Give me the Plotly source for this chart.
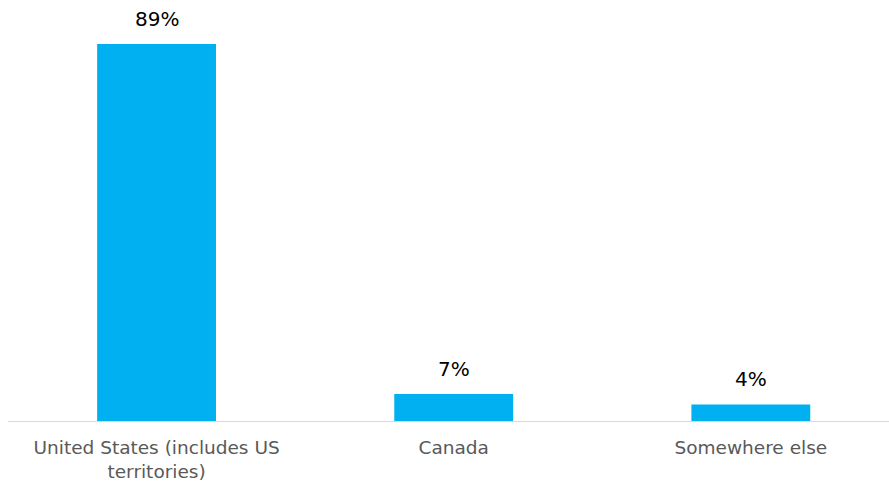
import plotly.graph_objects as go

categories = ["United States (includes US<br>territories)", "Canada", "Somewhere else"]
values = [89, 6.4, 3.9]
labels = ["89%", "7%", "4%"]

fig = go.Figure()
fig.add_trace(go.Bar(
    x=categories, y=values,
    marker=dict(color="#00B0F0", line=dict(width=0)),
    width=0.4, cliponaxis=False, hoverinfo="skip",
))
for c, v, t in zip(categories, values, labels):
    fig.add_annotation(
        x=c, y=v, text=t, showarrow=False, yanchor="middle", yshift=25,
        font=dict(family="Century Gothic, DejaVu Sans", size=20, color="#000000"),
    )
fig.update_layout(
    width=889, height=488,
    margin=dict(l=8, r=0, t=0, b=67),
    paper_bgcolor="white", plot_bgcolor="white",
    showlegend=False,
    font=dict(family="Century Gothic, DejaVu Sans", size=18, color="#595959"),
)
fig.update_xaxes(
    range=[-0.5, 2.465], showline=True, linecolor="#d9d9d9", linewidth=1,
    ticks="", tickfont=dict(size=18.5, color="#595959"), showgrid=False,
    automargin=False, ticklabelstandoff=10,
)
fig.update_yaxes(range=[0, 99.4], visible=False, showgrid=False, automargin=False)
fig.write_html(
    "out.html",
    config={"displayModeBar": False},
    post_script="document.body.style.margin='0';document.body.style.padding='0';"
                "Plotly.relayout('{plot_id}', {width: 889, height: 488});",
)
